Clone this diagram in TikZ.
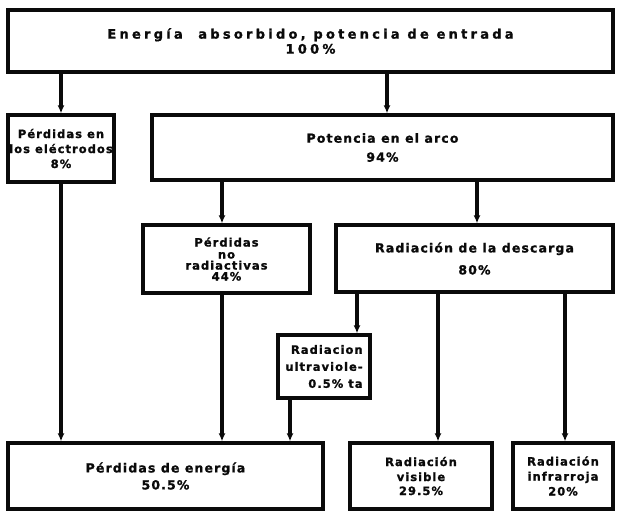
\documentclass[tikz,border=0pt]{standalone}
\usepackage{fontspec}
\setmainfont{DejaVu Sans}[LetterSpace=9,BoldFeatures={FakeBold=1.2}]
\newfontfamily\widefont{DejaVu Sans}[LetterSpace=25,BoldFeatures={FakeBold=1.2}]
\usepackage{xcolor}
\usepackage{tikz}
\usetikzlibrary{arrows.meta}
\definecolor{inkblack}{RGB}{10,10,10}
\tikzset{
  stagebox/.style={draw=inkblack,line width=3.2pt,align=center,inner sep=1pt,
    text=inkblack,font=\fontsize{12.5}{14}\selectfont\bfseries},
  smallbox/.style={stagebox,font=\fontsize{11.5}{13}\selectfont\bfseries},
  headbox/.style={stagebox,font=\widefont\fontsize{13}{15}\selectfont\bfseries},
  flow/.style={-{Latex[length=8pt,width=7pt]},line width=3.2pt,draw=inkblack}
}

\begin{document}
\begin{tikzpicture}[x=1pt,y=-1pt]
  \useasboundingbox (0,0) rectangle (618,511);
  % rows of boxes, top to bottom
  \node[headbox,minimum width=605,minimum height=62] (entrada) at (310.5,41)
    {Energía\ \ absorbido, potencia de entrada\\100\%};
  \node[smallbox,minimum width=106,minimum height=67] (electrodos) at (61,148.5)
    {Pérdidas en\\[2pt]los eléctrodos\\[2pt]8\%};
  \node[stagebox,minimum width=461,minimum height=65] (arco) at (382.5,147.5)
    {Potencia en el arco\\[5pt]94\%};
  \node[smallbox,minimum width=167,minimum height=68] (noradiac) at (226.5,259)
    {Pérdidas\\[-1pt]no\\[-2pt]radiactivas\\[-2pt]44\%};
  \node[stagebox,minimum width=277,minimum height=67] (descarga) at (474.5,258.5)
    {Radiación de la descarga\\[8pt]80\%};
  \node[smallbox,align=right,minimum width=92,minimum height=63] (ultravioleta) at (324,366.5)
    {Radiacion\\[4pt]ultraviole-\\[4pt]0.5\% ta};
  \node[stagebox,minimum width=315,minimum height=66] (perdidas) at (165.5,476)
    {Pérdidas de energía\\[3pt]50.5\%};
  \node[smallbox,minimum width=142,minimum height=66] (visible) at (421,476)
    {Radiación\\[2pt]visible\\[1pt]29.5\%};
  \node[smallbox,minimum width=100,minimum height=66] (infrarroja) at (563,476)
    {Radiación\\[2pt]infrarroja\\[2pt]20\%};
  % arrow feet, where they do not meet a box in its middle
  \coordinate (arcoin) at ([xshift=4.5pt]arco.north);
  \coordinate (noradin) at ([xshift=-4.5pt]noradiac.north);
  \coordinate (noradout) at ([xshift=-4.5pt]noradiac.south);
  \coordinate (descin) at ([xshift=2.5pt]descarga.north);
  \coordinate (uvin) at ([xshift=33pt]ultravioleta.north);
  \coordinate (uvout) at ([xshift=-34pt]ultravioleta.south);
  \coordinate (visin) at ([xshift=17pt]visible.north);
  \coordinate (irin) at ([xshift=2pt]infrarroja.north);
  % arrows
  \draw[flow] (entrada.south -| electrodos.north) -- (electrodos.north);
  \draw[flow] (entrada.south -| arcoin) -- (arcoin);
  \draw[flow] (arco.south -| noradin) -- (noradin);
  \draw[flow] (arco.south -| descin) -- (descin);
  \draw[flow] (descarga.south -| uvin) -- (uvin);
  \draw[flow] (descarga.south -| visin) -- (visin);
  \draw[flow] (descarga.south -| irin) -- (irin);
  \draw[flow] (electrodos.south) -- (electrodos.south |- perdidas.north);
  \draw[flow] (noradout) -- (noradout |- perdidas.north);
  \draw[flow] (uvout) -- (uvout |- perdidas.north);
\end{tikzpicture}
\end{document}
